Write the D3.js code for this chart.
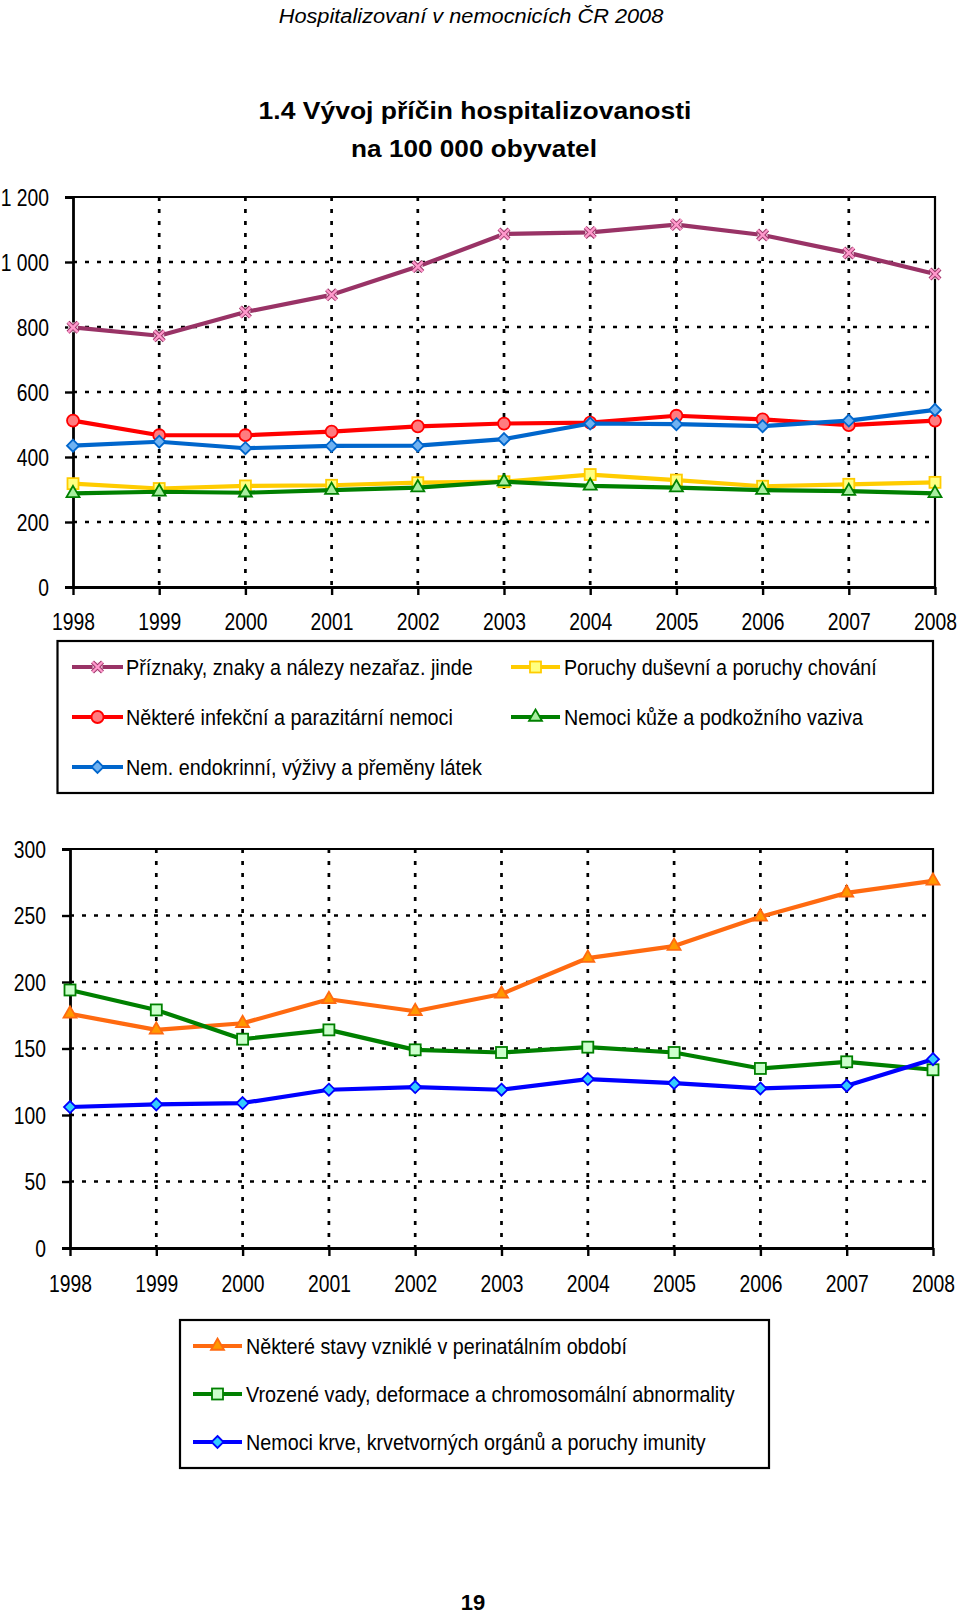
<!DOCTYPE html>
<html><head><meta charset="utf-8">
<script src="https://cdn.jsdelivr.net/npm/d3@7"></script>
<style>
body{margin:0;background:#fff}
svg{display:block}
</style>
</head><body>
<svg id="c" width="960" height="1614"></svg>
<script>
// ---------- data ----------
const years = [1998,1999,2000,2001,2002,2003,2004,2005,2006,2007,2008];
const topTicks = [0,200,400,600,800,1000,1200];
const bottomTicks = [0,50,100,150,200,250,300];

// top chart series
const priznaky  = [799,773,846,899,986,1086,1091,1115,1083,1028,963];
const dusevni   = [318,303,311,313,321,324,346,329,310,316,322];
const infekcni  = [512,467,467,478,494,503,506,527,516,498,512];
const kuze      = [288,293,290,298,306,324,311,306,298,295,288];
const endokrin  = [435,447,427,434,435,455,503,501,495,512,545];

// bottom chart series
const perinatal = [176,164,169,187,178,191,218,227,249,267,276];
const vrozene   = [194,179,157,164,149,147,151,147,135,140,134];
const krve      = [106,108,109,119,121,119,127,124,120,122,142];

const topNames = ["Příznaky, znaky a nálezy nezařaz. jinde","Poruchy duševní a poruchy chování",
  "Některé infekční a parazitární nemoci","Nemoci kůže a podkožního vaziva","Nem. endokrinní, výživy a přeměny látek"];
const bottomNames = ["Některé stavy vzniklé v perinatálním období",
  "Vrozené vady, deformace a chromosomální abnormality","Nemoci krve, krvetvorných orgánů a poruchy imunity"];

// ---------- styles ----------
const SANS = "'Liberation Sans',Arial,sans-serif";
const NARROW_X = 0.84;
const AXIS_FS = 23;

const topSeries = [
  {name:topNames[0], values:priznaky, color:"#993366", fill:"#FF99CC", marker:"x", size:10},
  {name:topNames[1], values:dusevni,  color:"#FFCC00", fill:"#FFFF80", marker:"square", size:11},
  {name:topNames[2], values:infekcni, color:"#FF0000", fill:"#FF7C80", marker:"circle", size:12},
  {name:topNames[3], values:kuze,     color:"#008000", fill:"#A8EEA0", marker:"triangle", size:13},
  {name:topNames[4], values:endokrin, color:"#0066CC", fill:"#6FB2F2", marker:"diamond", size:12}
];
const bottomSeries = [
  {name:bottomNames[0], values:perinatal, color:"#FF6A10", fill:"#FF9900", marker:"triangle", size:13},
  {name:bottomNames[1], values:vrozene,   color:"#008000", fill:"#CCFFCC", marker:"square", size:11},
  {name:bottomNames[2], values:krve,      color:"#0000FF", fill:"#33CCFF", marker:"diamond", size:12}
];

const svg = d3.select("#c");
const fmt = d3.formatLocale({decimal:",", thousands:"\u00a0", grouping:[3], currency:["",""]}).format(",d");

// text helper: real text, horizontally scaled to a target width (or a fixed narrow factor)
function addText(x, y, str, o){
  const g = svg.append("g").attr("transform",`translate(${x},${y})`);
  const t = g.append("text").attr("dy","0.36em").attr("text-anchor",o.anchor||"start")
    .attr("font-family",SANS).attr("font-size",o.size).attr("fill","#000")
    .attr("font-weight",o.weight||"normal").attr("font-style",o.style||"normal").text(str);
  let sx = o.sx || NARROW_X;
  if(o.width){ const len = t.node().getComputedTextLength(); if(len>0) sx = o.width/len; }
  t.attr("transform",`scale(${sx},1)`);
  return t;
}

function drawMarker(g, type, x, y, s, fill, stroke){
  const h = s/2;
  if(type==="circle"){
    g.append("circle").attr("cx",x).attr("cy",y).attr("r",h).attr("fill",fill).attr("stroke",stroke).attr("stroke-width",1.8);
  } else if(type==="square"){
    g.append("rect").attr("x",x-h).attr("y",y-h).attr("width",s).attr("height",s).attr("fill",fill).attr("stroke",stroke).attr("stroke-width",1.8);
  } else if(type==="diamond"){
    g.append("path").attr("d",`M${x},${y-h}L${x+h},${y}L${x},${y+h}L${x-h},${y}Z`).attr("fill",fill).attr("stroke",stroke).attr("stroke-width",1.8);
  } else if(type==="triangle"){
    const r = s/Math.sqrt(3);
    g.append("path").attr("d",`M${x},${y-r}L${x+h},${y+r/2}L${x-h},${y+r/2}Z`).attr("fill",fill).attr("stroke",stroke).attr("stroke-width",1.8);
  } else if(type==="x"){
    const d=`M${x-h},${y-h}L${x+h},${y+h}M${x+h},${y-h}L${x-h},${y+h}`;
    g.append("rect").attr("x",x-h).attr("y",y-h).attr("width",s).attr("height",s).attr("fill","#fbe0ec").attr("opacity",0.8);
    g.append("path").attr("d",d).attr("stroke",stroke).attr("stroke-width",4.2).attr("fill","none");
    g.append("path").attr("d",d).attr("stroke",fill).attr("stroke-width",2.4).attr("fill","none");
  }
}

function chart(cfg){
  const {left,right,top,bottom,max,ticks,series,labelRight,xLabelY} = cfg;
  const x = d3.scalePoint().domain(years).range([left,right]);
  const y = d3.scaleLinear().domain([0,max]).range([bottom,top]);
  const g = svg.append("g");

  // grid
  g.append("g").selectAll("line").data(ticks.filter(t=>t>0 && t<max)).join("line")
    .attr("x1",left).attr("x2",right).attr("y1",d=>y(d)).attr("y2",d=>y(d))
    .attr("stroke","#000").attr("stroke-width",2.7).attr("stroke-dasharray","4,8");
  g.append("g").selectAll("line").data(years.slice(1,-1)).join("line")
    .attr("x1",d=>x(d)).attr("x2",d=>x(d)).attr("y1",top).attr("y2",bottom)
    .attr("stroke","#000").attr("stroke-width",2.7).attr("stroke-dasharray","4,8");

  // frame top/right
  g.append("path").attr("d",`M${left},${top}H${right}V${bottom}`).attr("fill","none").attr("stroke","#000").attr("stroke-width",2.2);

  // axes
  const ya = d3.axisLeft(y).tickValues(ticks).tickSize(8).tickFormat(fmt);
  const yg = g.append("g").attr("transform",`translate(${left},0)`).call(ya);
  yg.select(".domain").attr("stroke-width",2.8);
  yg.selectAll(".tick line").attr("stroke-width",2.4);
  yg.selectAll(".tick text").attr("x",0).attr("transform",`translate(${labelRight-left},0) scale(${NARROW_X},1)`)
    .attr("font-size",AXIS_FS).attr("font-family",SANS).attr("fill","#000").attr("dy","0.36em");

  const xa = d3.axisBottom(x).tickSize(8).tickSizeOuter(0);
  const xg = g.append("g").attr("transform",`translate(0,${bottom})`).call(xa);
  xg.select(".domain").attr("stroke-width",2.8);
  xg.selectAll(".tick line").attr("stroke-width",2.4);
  xg.selectAll(".tick text").attr("y",0).attr("dy","0.36em").attr("transform",`translate(0,${xLabelY-bottom}) scale(${NARROW_X},1)`)
    .attr("font-size",AXIS_FS).attr("font-family",SANS).attr("fill","#000");

  // series
  const line = d3.line().x((d,i)=>x(years[i])).y(d=>y(d));
  series.forEach(s=>{
    const sg = g.append("g");
    sg.append("path").datum(s.values).attr("d",line).attr("fill","none").attr("stroke",s.color).attr("stroke-width",4.2).attr("stroke-linejoin","round");
    s.values.forEach((v,i)=>drawMarker(sg,s.marker,x(years[i]),y(v),s.size,s.fill,s.color));
  });
}

function legend(cfg){
  const {box,items} = cfg;
  svg.append("rect").attr("x",box[0]).attr("y",box[1]).attr("width",box[2]-box[0]).attr("height",box[3]-box[1])
    .attr("fill","none").attr("stroke","#000").attr("stroke-width",2.2);
  items.forEach(it=>{
    const g = svg.append("g");
    g.append("line").attr("x1",it.x1).attr("x2",it.x2).attr("y1",it.y).attr("y2",it.y).attr("stroke",it.s.color).attr("stroke-width",4.2);
    drawMarker(g,it.s.marker,(it.x1+it.x2)/2,it.y,it.s.size,it.s.fill,it.s.color);
    addText(it.tx,it.y,it.s.name,{size:22,width:it.w});
  });
}

// header & title
addText(471,15,"Hospitalizovaní v nemocnicích ČR 2008",{anchor:"middle",size:21,style:"italic",width:385});
addText(475,110,"1.4  Vývoj příčin hospitalizovanosti",{anchor:"middle",size:24.5,weight:"bold",width:433});
addText(474,148,"na 100 000 obyvatel",{anchor:"middle",size:24.5,weight:"bold",width:246});

chart({left:73,right:935,top:197,bottom:587,max:1200,ticks:topTicks,series:topSeries,labelRight:49,xLabelY:622});
chart({left:70,right:933,top:849,bottom:1248,max:300,ticks:bottomTicks,series:bottomSeries,labelRight:46,xLabelY:1284});

legend({box:[57.5,641,933,793],items:[
  {s:topSeries[0],x1:72,x2:123,tx:126,y:667,w:347},
  {s:topSeries[1],x1:511,x2:560,tx:564,y:667,w:313},
  {s:topSeries[2],x1:72,x2:123,tx:126,y:717,w:327},
  {s:topSeries[3],x1:511,x2:560,tx:564,y:717,w:299},
  {s:topSeries[4],x1:72,x2:123,tx:126,y:767,w:356}
]});
legend({box:[180,1320,769,1468],items:[
  {s:bottomSeries[0],x1:193,x2:242,tx:246,y:1346,w:381},
  {s:bottomSeries[1],x1:193,x2:242,tx:246,y:1394,w:489},
  {s:bottomSeries[2],x1:193,x2:242,tx:246,y:1442,w:460}
]});

addText(473,1602,"19",{anchor:"middle",size:22,weight:"bold",sx:1});
</script>
</body></html>
